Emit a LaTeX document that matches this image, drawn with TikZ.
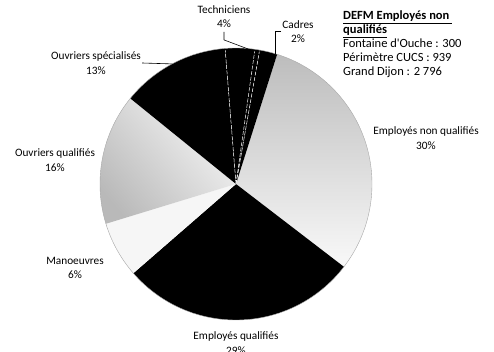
\documentclass[tikz,border=0pt]{standalone}
\usepackage{fontspec}
\setmainfont{Carlito}
\begin{document}
\begin{tikzpicture}[x=1pt,y=1pt,
  lbl/.style={font=\fontsize{11.3}{14.5}\selectfont, align=center, inner sep=1pt},
  leg/.style={font=\fontsize{12.5}{14}\selectfont, anchor=base west, inner sep=0pt},
  leader/.style={draw=black, line width=0.6pt},
  sepline/.style={draw=white, line width=0.5pt, dash pattern=on 4pt off 1.5pt}]
\useasboundingbox (0,0) rectangle (494,-352);
\coordinate (C) at (236,-184);
% slices
\shade[top color=gray!52, middle color=gray!9, bottom color=gray!5]
  (C) -- ++(72.4:136) arc[start angle=72.4, end angle=-37.5, radius=136] -- cycle;
\fill[black]
  (C) -- ++(-37.5:136) arc[start angle=-37.5, end angle=-139, radius=136] -- cycle;
\fill[gray!7]
  (C) -- ++(-139:136) arc[start angle=-139, end angle=-163, radius=136] -- cycle;
\shade[shading=axis, top color=gray!8, bottom color=gray!55, shading angle=-50]
  (C) -- ++(-163:136) arc[start angle=-163, end angle=-219, radius=136] -- cycle;
\fill[black]
  (C) -- ++(-219:136) arc[start angle=-219, end angle=-265.4, radius=136] -- cycle;
\fill[black]
  (C) -- ++(94.6:136) arc[start angle=94.6, end angle=80, radius=136] -- cycle;
\fill[black]
  (C) -- ++(80:136) arc[start angle=80, end angle=72.4, radius=136] -- cycle;
\draw[sepline] (C) -- ++(94.6:134);
\draw[sepline] (C) -- ++(82:134);
\draw[sepline] (C) -- ++(80:134);
\draw[gray!70, line width=0.4pt] (C) circle[radius=136];
% labels
\node[lbl] (tech) at (224,-16.5) {Techniciens\\4\%};
\node[lbl] (cadres) at (298,-31.5) {Cadres\\2\%};
\node[lbl] (enq) at (426,-138) {Employés non qualifiés\\30\%};
\node[lbl] (eq) at (236,-343) {Employés qualifiés\\29\%};
\node[lbl] (man) at (75,-268) {Manoeuvres\\6\%};
\node[lbl] (oq) at (55,-160) {Ouvriers qualifiés\\16\%};
\node[lbl] (os) at (96,-63) {Ouvriers spécialisés\\13\%};
% leader lines
\path (C) ++(84:135) coordinate (tE);
\path (C) ++(73:136) coordinate (cE);
\path (C) ++(118:136) coordinate (osE);
\draw[leader] (tech.south) ++(0,-3) -- ++(0,-8) -- (tE);
\draw[leader] (cadres.west) -| (cE);
\draw[leader] (os.east) -- (osE);
% legend
\node[leg] (l1) at (343,-19.5) {\underline{\textbf{DEFM Employés non\ }}};
\node[leg] (l2) at (343,-33.5) {\underline{\textbf{qualifiés}}};
\node[leg] (l3) at (343,-47.5) {Fontaine d\textquotesingle Ouche : 300};
\node[leg] (l4) at (343,-61.5) {Périmètre CUCS : 939};
\node[leg] (l5) at (343,-75.5) {Grand Dijon : 2 796};
\end{tikzpicture}
\end{document}
